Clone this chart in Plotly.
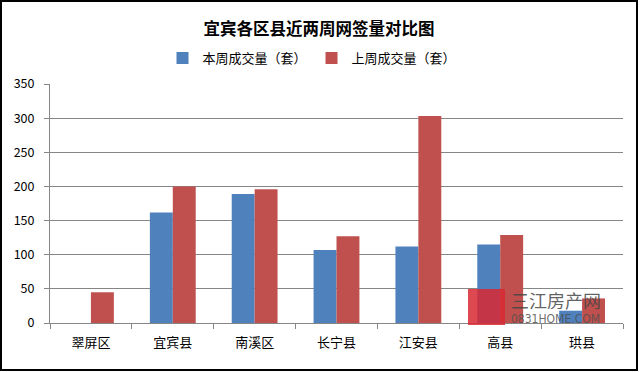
import plotly.graph_objects as go

categories = ["翠屏区", "宜宾县", "南溪区", "长宁县", "江安县", "高县", "珙县"]
this_week = [0, 162, 189, 107, 112, 115, 18]
last_week = [45, 200, 196, 127, 303, 129, 36]
series_names = ["本周成交量（套）", "上周成交量（套）"]
y_ticks = [0, 50, 100, 150, 200, 250, 300, 350]

FONT = "Noto Sans CJK SC, Microsoft YaHei, sans-serif"

fig = go.Figure()
fig.add_trace(go.Bar(x=categories, y=this_week, name=series_names[0],
                     marker=dict(color="#4F81BD", line=dict(width=0))))
fig.add_trace(go.Bar(x=categories, y=last_week, name=series_names[1],
                     marker=dict(color="#C0504D", line=dict(width=0))))

fig.update_layout(
    width=640, height=372,
    margin=dict(l=50, r=17, t=84, b=49, autoexpand=False),
    paper_bgcolor="white", plot_bgcolor="white",
    barmode="group", bargap=0.44, bargroupgap=0,
    font=dict(family=FONT, size=12, color="black"),
    title=dict(text="<b>宜宾各区县近两周网签量对比图</b>", x=(319 - 50) / 573, xref="paper",
               xanchor="center", y=1 - 29 / 372, yanchor="middle",
               font=dict(size=16.5, family=FONT, color="black")),
    legend=dict(orientation="h", x=(312 - 50) / 573, xanchor="center", xref="paper",
                y=(323 - 58) / 239, yref="paper", yanchor="middle",
                font=dict(size=13, family=FONT), itemwidth=30,
                traceorder="normal", tracegroupgap=0),
    showlegend=True,
)
fig.update_xaxes(showline=True, linecolor="#868686", linewidth=1, automargin=False,
                 ticks="outside", tickson="boundaries", ticklen=5, tickcolor="#868686",
                 tickfont=dict(size=13, family=FONT), showgrid=False, ticklabelstandoff=7)
fig.update_yaxes(range=[0, 350], tickvals=y_ticks, showline=True, linecolor="#868686",
                 linewidth=1, ticks="outside", ticklen=5, tickcolor="#868686", automargin=False,
                 gridcolor="#868686", gridwidth=1, zeroline=False,
                 tickfont=dict(size=12.5, family=FONT), ticklabelstandoff=7)

# outer frame
fig.add_shape(type="rect", xref="paper", yref="paper",
              x0=(1 - 50) / 573, x1=(637 - 50) / 573,
              y0=(323 - 370) / 239, y1=(323 - 1) / 239,
              line=dict(color="black", width=2), fillcolor="rgba(0,0,0,0)", layer="above")

# watermark
fig.add_shape(type="rect", xref="paper", yref="paper",
              x0=(468 - 50) / 573, x1=(505 - 50) / 573,
              y0=(323 - 325) / 239, y1=(323 - 289) / 239,
              line=dict(width=0), fillcolor="rgba(215,40,50,0.85)", layer="above")
fig.add_annotation(xref="paper", yref="paper", x=(509 - 50) / 573, y=(323 - 300) / 239,
                   xanchor="left", yanchor="middle", showarrow=False,
                   text="三江房产网", font=dict(size=18, color="rgba(70,70,70,0.85)", family=FONT))
fig.add_annotation(xref="paper", yref="paper", x=(509 - 50) / 573, y=(323 - 319) / 239,
                   xanchor="left", yanchor="middle", showarrow=False,
                   text="0831HOME.COM", font=dict(size=12, color="rgba(80,80,80,0.85)", family="DejaVu Sans Condensed, Liberation Sans Narrow, sans-serif"))

fig.write_html("out.html", config={"displayModeBar": False},
               post_script="document.body.style.margin='0';")
